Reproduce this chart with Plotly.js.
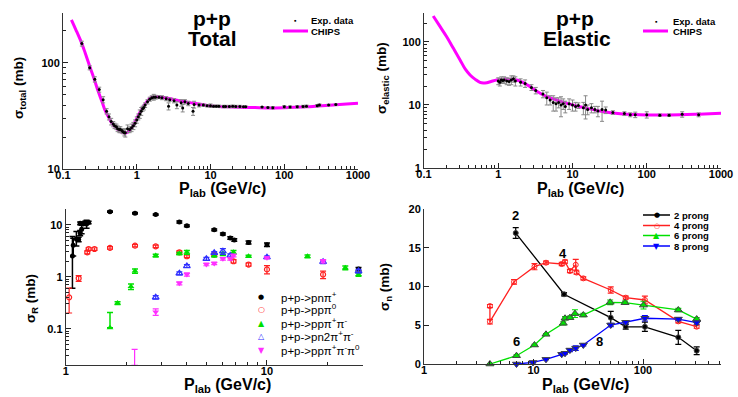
<!DOCTYPE html>
<html><head><meta charset="utf-8">
<script src="https://cdn.plot.ly/plotly-3.0.1.min.js"></script>
<style>html,body{margin:0;padding:0;background:#fff;}#chart{width:738px;height:397px;}</style>
</head><body><div id="chart"></div>
<script>
// ---------- Panel 1: p+p Total ----------
const totalCurveP = [0.13,0.15,0.18,0.2,0.23,0.26,0.3,0.34,0.37,0.41,0.46,0.52,0.59,0.65,0.7,0.75,0.81,0.9,1.0,1.1,1.23,1.37,1.51,1.7,1.96,2.4,3.0,4.0,6.2,10,20,40,70,100,200,400,700,1000];
const totalCurveS = [254,204,152,124,93,73,54,42.6,36,31.3,27,24.5,22.6,22,21.8,22.2,23.3,26,30,34,38.7,43,46.5,47.8,48,47,45.7,43.5,41.5,39.3,38.4,37.9,37.6,37.7,38.5,39.8,40.9,41.7];
const totalExpP = [0.18,0.23,0.27,0.31,0.35,0.39,0.42,0.45,0.48,0.5,0.53,0.55,0.58,0.6,0.63,0.65,0.68,0.7,0.75,0.8,0.85,0.9,0.95,1.0,1.05,1.1,1.15,1.2,1.25,1.3,1.4,1.5,1.6,1.7,1.8,2.0,2.2,2.5,2.7,2.8,3.2,3.5,4.0,4.2,4.5,5.0,5.8,6.0,7.0,8.0,9.0,10,11,12,13,15,16,18,20,22,25,28,30,50,60,70,100,120,150,180,200,280,300,400,500];
const totalExpS = [152,90,70,56,45,35,31,28,26.5,25.5,25,24,23.5,23.5,23,22.5,22,22,24,23.5,24.5,25.5,27,29,31,33,35,37,38,40,43,45.5,47,47.5,47.5,47.5,47,46,39,45,44,40,42,37.5,43,41.5,35,40.5,40,40,39.5,39.5,39,39,39,38.8,38.8,38.8,39,38.8,38.8,38.7,38.7,38.3,38,37.8,38.5,38.3,38.6,38.8,39,39.5,40,40.2,40.5];
const totalExpE = [8,4,4,3,3,2,2,2,1.5,1.5,1.5,1.5,1.5,1.5,1,1,1.5,2,2,1.5,2,2,2,2,2,3,3,2,2,2,2,2,2,3,2,1.5,2,2,3,1.5,2,3,3,3,2,2,3,3,1.5,1,1,1.5,1,1,1,1,1,1,1,1,1,0.5,0.5,0.5,0.5,1,1,1,1,1,1,1,1,0.5,0.5];

// ---------- Panel 2: p+p Elastic ----------
const elCurveP = [0.133,0.16,0.202,0.25,0.306,0.36,0.417,0.49,0.567,0.63,0.7,0.8,0.95,1.2,1.44,1.77,2.2,2.68,3.3,4.05,5,6.12,9.25,15.5,26,48,100,205,500,1000];
const elCurveS = [259,185,121,78.5,52,37,30,25.5,22.8,22.3,22.6,23.6,24.9,25.6,25.6,24.9,22.5,19.5,16.5,14.4,13,12,10.3,8.86,7.83,7.2,6.94,6.94,7.15,7.38];
const elExpP = [1.0,1.05,1.1,1.15,1.2,1.3,1.4,1.5,1.6,1.7,2.0,2.3,2.8,3.2,4.0,4.5,5.0,5.5,6.0,6.5,7.0,7.5,8.0,9.0,10,11,12,14,15,16,18,20,22,25,28,35,50,60,70,100,150,200,300,500];
const elExpS = [24,23,25,24.5,25,24,23.5,25,26,24,23,22,19,17,15,13,12,11,10.5,11,10,10.5,9.5,10.5,10,9.5,9.8,9,10,8.5,9,8.5,8,8.5,8.3,7.6,7.3,7.0,7.0,7.0,6.9,6.9,7.1,7.0];
const elExpE = [3,3,3,2,3,3,3,4,3,4,3,3,2,2,2,3,2,3,2.5,2,3.5,2,2,2,2,1.5,1,2,4,1.5,1.5,1,1.5,3,1,0.5,0.5,0.5,0.7,0.8,0.3,0.3,0.7,0.5];

// ---------- Panel 3: reaction cross sections ----------
const rLabels = ['p+p->pnπ<sup>+</sup>','p+p->ppπ<sup>0</sup>','p+p->ppπ<sup>+</sup>π<sup>-</sup>','p+p->pn2π<sup>+</sup>π<sup>-</sup>','p+p->ppπ<sup>+</sup>π<sup>-</sup>π<sup>0</sup>'];
const pnPiP = [1.08,1.09,1.13,1.16,1.18,1.2,1.18,1.22,1.25,1.27,1.3,1.66,2.21,2.8,3.67,4.0,5.47,6.04,6.57,6.88,8.1,10,28.5];
const pnPiS = [2.5,4.0,5.3,5.2,6.9,8.2,10.6,10.3,11,10.3,11,17.8,16.6,15.6,11.3,9.5,7.95,6.6,5.53,5.07,4.56,4.12,1.4];
const pnPiEp = [3.4,1.5,2.1,0.5,0.8,1.5,0.6,0.6,0.6,1.8,0.6,0.5,0.5,0.5,0.5,0.4,0.3,0.3,0.3,0.3,0.3,0.3,0.1];
const pnPiEm = [1.9,1.5,1.4,0.5,0.8,1.5,0.6,0.6,0.6,1.8,0.6,0.5,0.5,0.5,0.5,0.4,0.3,0.3,0.3,0.3,0.3,0.3,0.1];
const ppPi0P = [1.04,1.16,1.28,1.3,1.39,1.66,2.21,2.8,3.67,4.0,5.47,6.82,8.1,10,19];
const ppPi0S = [0.4,0.93,2.94,3.4,3.4,3.57,3.95,3.83,2.94,2.47,2.66,1.98,1.71,1.38,1.1];
const ppPi0E = [0.2,0.12,0.2,0.2,0.2,0.2,0.2,0.2,0.2,0.15,0.15,0.15,0.12,0.25,0.18];
const pp2PiP = [1.66,1.81,2.11,2.21,2.8,3.67,4.0,5.47,6.04,6.82,8.1,15.9,24.5,28.5];
const pp2PiS = [0.104,0.31,0.645,1.28,2.55,2.78,2.94,2.55,2.75,2.94,2.47,2.47,1.48,1.1];
const pp2PiEp = [0.1,0.02,0.08,0.12,0.15,0.15,0.25,0.15,0.2,0.25,0.12,0.15,0.12,0.08];
const pp2PiEm = [0.0,0.02,0.08,0.12,0.15,0.15,0.25,0.15,0.2,0.25,0.12,0.15,0.12,0.08];
const pn3PiP = [2.8,3.67,4.0,5.0,5.47,6.04,6.57,10,19,28.5];
const pn3PiS = [0.4,1.16,1.6,2.2,2.87,3.07,2.55,2.36,1.93,1.28];
const pn3PiE = [0.03,0.08,0.1,0.15,0.15,0.4,0.2,0.12,0.15,0.1];
const pp3PiP = [2.2,2.8,3.67,4.0,5.0,5.47,6.04,6.57,6.82,10,19];
const pp3PiS = [0.019,0.21,0.745,1.1,1.72,1.8,2.2,2.2,2.55,2.3,1.98];
const pp3PiE = [0.021,0.03,0.05,0.08,0.1,0.1,0.12,0.12,0.15,0.1,0.15];

// ---------- Panel 4: prong cross sections ----------
const prongLabels = ['2 prong','4 prong','6 prong','8 prong'];
const pr2P = [6.88,19.0,50.7,69.5,104,210,309];
const pr2S = [16.9,9.0,5.98,4.8,4.8,3.44,1.72];
const pr2E = [0.7,0.2,0.8,0.3,0.6,0.9,0.5];
const pr4P = [4.0,4.0,6.64,10.2,13.0,18.1,19.4,21.5,24.3,24.7,28.5,50.7,69.5,104,210,309];
const pr4S = [7.48,5.46,10.6,12.56,13.07,12.9,13.2,12.0,12.8,11.8,11.05,9.55,8.56,8.26,5.5,4.81];
const pr4E = [0.2,0.3,0.3,0.4,0.2,0.2,0.2,0.2,0.7,0.2,0.2,0.4,0.2,0.5,0.2,0.2];
const pr6P = [4.0,6.99,10.2,13.0,18.7,19.4,21.5,23.9,28.5,50.1,68.5,101,210,309];
const pr6S = [0.0,1.07,2.45,3.83,5.25,5.9,5.98,6.5,6.32,7.96,7.91,7.6,6.97,5.8];
const pr6E = [0.05,0.1,0.1,0.1,0.2,0.2,0.2,0.5,0.2,0.3,0.2,0.5,0.2,0.2];
const pr8P = [6.99,9.9,13.0,18.1,19.4,21.5,24.3,28.5,50.7,69.5,104,210,309];
const pr8S = [0.0,0.2,0.6,1.25,1.38,1.8,2.05,2.45,5.03,5.38,5.9,5.8,5.33];
const pr8E = [0.05,0.05,0.05,0.1,0.1,0.2,0.3,0.1,0.2,0.2,0.35,0.2,0.2];
const prongNames = ['2','4','6','8'];

// ---------- tick labels / titles ----------
const p12Ticks = [0.1,1,10,100,1000];
const p1YTicks = [10,100];
const p2YTicks = [1,10,100];
const p3XTicks = [1,10];
const p3YTicks = [0.1,1,10];
const p4XTicks = [1,10,100];
const p4YTicks = [0,5,10,15,20];
const xTitle = 'P<sub>lab</sub> (GeV/c)';
const yTitles = ['σ<sub>total</sub> (mb)','σ<sub>elastic</sub> (mb)','σ<sub>R</sub> (mb)','σ<sub>n</sub> (mb)'];

// ---------- helpers ----------
const W = 738, H = 397;
const px = x => x / W, py = y => 1 - y / H;
const FONT = 'Liberation Sans, Arial, sans-serif';
function minorLog(lo, hi){ const v=[]; for(let d=lo; d<hi; d++){ for(let k=2;k<=9;k++) v.push(k*Math.pow(10,d)); } return v; }
const tickFont = {family: FONT, size: 11, color: '#000', weight: 'bold'};
function logAxis(domain, range, ticks, minorVals, anchor, isX){
  return {type:'log', domain, range, anchor, showgrid:false, zeroline:false, showline:true, linecolor:'#333', linewidth:1,
    ticks:'inside', ticklen:5, tickcolor:'#222', tickmode:'array', tickvals:ticks, ticktext:ticks.map(String), tickfont:tickFont,
    ticklabelstandoff: isX ? -4 : 0,
    minor:{tickmode:'array', tickvals:minorVals, ticks:'inside', ticklen:3, tickcolor:'#222', tickwidth:1, showgrid:false}};
}
const errGrey = (arr) => ({type:'data', array:arr, visible:true, color:'#888', thickness:1, width:2});

const traces = [];
// Panel 1
traces.push({x: totalCurveP, y: totalCurveS, type:'scatter', mode:'lines', line:{color:'#ff00ff', width:3, shape:'spline'}, xaxis:'x', yaxis:'y', showlegend:false});
traces.push({x: totalExpP, y: totalExpS, type:'scatter', mode:'markers', marker:{color:'#000', size:3}, error_y: errGrey(totalExpE), xaxis:'x', yaxis:'y', showlegend:false});
// Panel 2
traces.push({x: elCurveP, y: elCurveS, type:'scatter', mode:'lines', line:{color:'#ff00ff', width:3, shape:'spline'}, xaxis:'x2', yaxis:'y2', showlegend:false});
traces.push({x: elExpP, y: elExpS, type:'scatter', mode:'markers', marker:{color:'#000', size:3}, error_y: errGrey(elExpE), xaxis:'x2', yaxis:'y2', showlegend:false});
// Panel 3
traces.push({x: pnPiP, y: pnPiS, type:'scatter', mode:'markers', marker:{color:'#000', size:5, symbol:'circle'},
  error_y:{type:'data', symmetric:false, array:pnPiEp, arrayminus:pnPiEm, color:'#000', thickness:1.5, width:3}, xaxis:'x3', yaxis:'y3', showlegend:false});
traces.push({x: ppPi0P, y: ppPi0S, type:'scatter', mode:'markers', marker:{color:'#ff2020', size:5, symbol:'circle-open', line:{width:1.2}},
  error_y:{type:'data', array:ppPi0E, color:'#ff2020', thickness:1.2, width:3}, xaxis:'x3', yaxis:'y3', showlegend:false});
traces.push({x: pp2PiP, y: pp2PiS, type:'scatter', mode:'markers', marker:{color:'#00e000', size:6, symbol:'triangle-up'},
  error_y:{type:'data', symmetric:false, array:pp2PiEp, arrayminus:pp2PiEm, color:'#00e000', thickness:1.5, width:3}, xaxis:'x3', yaxis:'y3', showlegend:false});
traces.push({x: pn3PiP, y: pn3PiS, type:'scatter', mode:'markers', marker:{color:'#3030ff', size:6, symbol:'triangle-up-open', line:{width:1.2}},
  error_y:{type:'data', array:pn3PiE, color:'#3030ff', thickness:1.2, width:3}, xaxis:'x3', yaxis:'y3', showlegend:false});
traces.push({x: pp3PiP, y: pp3PiS, type:'scatter', mode:'markers', marker:{color:'#ff30ff', size:6, symbol:'triangle-down'},
  error_y:{type:'data', array:pp3PiE, color:'#ff30ff', thickness:1.2, width:3}, xaxis:'x3', yaxis:'y3', showlegend:false});
// Panel 4
const prSets = [[pr2P,pr2S,pr2E,'#000','circle',5],[pr4P,pr4S,pr4E,'#ff2020','circle-open',5],[pr6P,pr6S,pr6E,'#00e000','triangle-up',7],[pr8P,pr8S,pr8E,'#0000ff','triangle-down',7]];
prSets.forEach(s => traces.push({x:s[0], y:s[1], type:'scatter', mode:'lines+markers', line:{color:s[3], width:1.3},
  marker:{color:s[3], size:s[5], symbol:s[4], line:{width:1}}, error_y:{type:'data', array:s[2], color:s[3], thickness:1.2, width:3},
  xaxis:'x4', yaxis:'y4', showlegend:false, cliponaxis:false}));

const annotations = [];
const shapes = [];
function txt(x, y, text, size, opts){ annotations.push(Object.assign({xref:'paper', yref:'paper', x:px(x), y:py(y), text, showarrow:false, borderpad:0,
  font:{family:FONT, size, color:'#000', weight:'bold'}, xanchor:'center', yanchor:'middle'}, opts||{})); }
// axis titles
txt(222, 189, xTitle, 16); txt(580, 189, xTitle, 16); txt(227, 385, xTitle, 16); txt(585, 385, xTitle, 16);
txt(19, 88, yTitles[0], 13.5, {textangle:-90}); txt(383, 78, yTitles[1], 13.5, {textangle:-90});
txt(31, 299, yTitles[2], 13.5, {textangle:-90}); txt(385, 287, yTitles[3], 13.5, {textangle:-90});
// panel titles
txt(212, 19, 'p+p', 21); txt(212, 38, 'Total', 21);
txt(575, 19, 'p+p', 21); txt(577, 38, 'Elastic', 21);
// legends panels 1-2
txt(295, 21, '▪', 7, {}); txt(310, 21, 'Exp. data', 9.5, {xanchor:'left'}); txt(310, 31, 'CHIPS', 9.5, {xanchor:'left'});
shapes.push({type:'line', xref:'paper', yref:'paper', x0:px(283), x1:px(308), y0:py(31), y1:py(31), line:{color:'#ff00ff', width:3}});
txt(656, 22, '▪', 7, {}); txt(672, 22, 'Exp. data', 9.5, {xanchor:'left'}); txt(672, 31, 'CHIPS', 9.5, {xanchor:'left'});
shapes.push({type:'line', xref:'paper', yref:'paper', x0:px(643), x1:px(668), y0:py(31), y1:py(31), line:{color:'#ff00ff', width:3}});
// legend panel 3
const rSym = [['●','#000',7],['○','#ff2020',8],['▲','#00e000',8],['△','#3030ff',8],['▼','#ff30ff',8]];
const rRows = [297, 309, 323, 336, 350];
rLabels.forEach((l,i) => { txt(261, rRows[i], rSym[i][0], rSym[i][2], {font:{family:'DejaVu Sans', size:rSym[i][2], color:rSym[i][1]}});
  txt(280, rRows[i], l, 11.5, {xanchor:'left', font:{family:FONT, size:11.5, color:'#000'}}); });
// legend panel 4
const pSym = [['●','#000',7],['○','#ff2020',7],['▲','#00e000',8],['▼','#0000ff',8]];
const pRows = [215, 225.5, 235.5, 246];
prongLabels.forEach((l,i) => {
  shapes.push({type:'line', xref:'paper', yref:'paper', x0:px(643), x1:px(670), y0:py(pRows[i]), y1:py(pRows[i]), line:{color:pSym[i][1], width:1.5}});
  txt(656.5, pRows[i], pSym[i][0], pSym[i][2], {font:{family:'DejaVu Sans', size:pSym[i][2], color:pSym[i][1]}});
  txt(673, pRows[i], l, 9.5, {xanchor:'left'});
});
// prong curve labels (data coords)
const prongLabelPos = [[6.9,19.2],[18.5,14.3],[7.0,2.9],[40,2.9]];
prongNames.forEach((n,i) => annotations.push({xref:'x4', yref:'y4', x:Math.log10(prongLabelPos[i][0]), y:prongLabelPos[i][1], text:n, showarrow:false,
  font:{family:FONT, size:13, color:'#000', weight:'bold'}}));

const layout = {
  width: W, height: H, margin:{l:0,r:0,t:0,b:0}, paper_bgcolor:'#fff', plot_bgcolor:'rgba(0,0,0,0)', showlegend:false,
  font:{family:FONT},
  xaxis: logAxis([px(63), px(358)], [-1, 3], p12Ticks, minorLog(-1,3), 'y', true),
  yaxis: logAxis([py(169), py(13)], [1, 2.47], p1YTicks, minorLog(1,3), 'x', false),
  xaxis2: logAxis([px(424), px(721)], [-1, 3], p12Ticks, minorLog(-1,3), 'y2', true),
  yaxis2: logAxis([py(168), py(13)], [0, 2.46], p2YTicks, minorLog(0,3), 'x2', false),
  xaxis3: logAxis([px(65.7), px(363)], [0, Math.log10(30)], p3XTicks, minorLog(0,2), 'y3', true),
  yaxis3: logAxis([py(365), py(209)], [Math.log10(0.02), Math.log10(20)], p3YTicks, minorLog(-2,2), 'x3', false),
  xaxis4: logAxis([px(424), px(721)], [0, 2.712], p4XTicks, minorLog(0,3), 'y4', true),
  yaxis4: {domain:[py(364), py(209)], range:[0,20], anchor:'x4', showgrid:false, zeroline:false, showline:true, linecolor:'#333', linewidth:1,
    ticks:'inside', ticklen:5, tickcolor:'#222', tickmode:'array', tickvals:p4YTicks, ticktext:p4YTicks.map(String), tickfont:tickFont},
  annotations, shapes
};
Plotly.newPlot('chart', traces, layout, {staticPlot:true});
</script></body></html>
